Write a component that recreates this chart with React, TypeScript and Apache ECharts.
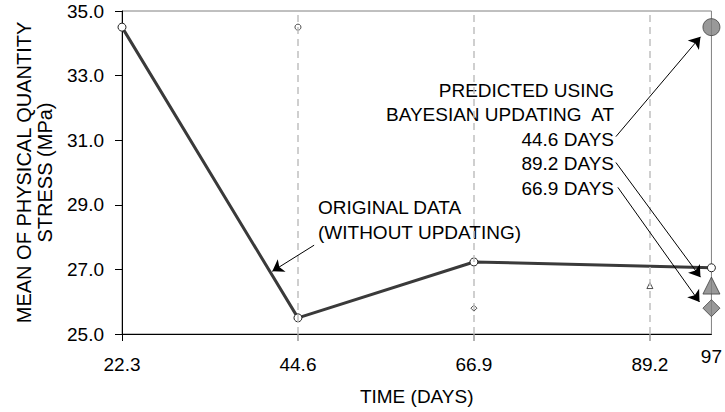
import React, { useEffect, useRef } from "react";
import * as echarts from "echarts";

// ---- data ----
const originalDays = [22.3, 44.6, 66.9, 97];
const originalStress = [34.5, 25.5, 27.23, 27.05];

const updateDays = [44.6, 66.9, 89.2];
const predictedStress = [34.5, 25.8, 26.5];
const predictedSymbols = ["circle", "diamond", "triangle"];
const finalDay = 97;

const xLabelValues = [22.3, 44.6, 66.9, 89.2, 97];
const xTickValues = [44.6, 66.9, 89.2];
const xCornerTick = [22.3];

// annotation arrows (data space): tail -> head
const arrowTails = [
  [46.65, 27.75],
  [84.89, 31.11],
  [84.89, 30.31],
  [85.14, 29.54],
];
const arrowHeads = [
  [41.35, 26.94],
  [95.61, 34.2],
  [95.61, 26.76],
  [95.49, 25.99],
];

const FONT = '"Liberation Sans", Arial, sans-serif';
const FS = 19;

export default function App() {
  const ref = useRef<HTMLDivElement>(null);

  useEffect(() => {
    document.body.style.margin = "0";
    if (!ref.current) return;
    const chart = echarts.init(ref.current, undefined, { renderer: "svg" });

    const baseX = {
      type: "value",
      min: 22.3,
      max: 97,
      splitLine: { show: false },
    };

    const option: any = {
      animation: false,
      backgroundColor: "#fff",
      textStyle: { fontFamily: FONT },
      grid: {
        left: 122,
        right: 11,
        top: 11,
        bottom: 77,
        show: true,
        borderColor: "#808080",
        borderWidth: 1,
        backgroundColor: "transparent",
      },
      xAxis: [
        {
          ...baseX,
          name: "TIME (DAYS)",
          nameLocation: "middle",
          nameGap: 51,
          nameTextStyle: { fontSize: FS, color: "#000", fontFamily: FONT, lineHeight: 22 },
          axisLine: { show: true, onZero: false, lineStyle: { color: "#000", width: 1 } },
          axisTick: {
            show: true,
            customValues: xTickValues,
            length: 7,
            lineStyle: { color: "#999", width: 1.5 },
          },
          axisLabel: {
            customValues: xLabelValues,
            margin: 11,
            formatter: (v: number) =>
              v === finalDay ? "{u|" + String(v) + "}" : "{n|" + v.toFixed(1) + "}",
            rich: {
              n: { fontSize: FS, color: "#000", fontFamily: FONT, lineHeight: 38 },
              u: { fontSize: FS, color: "#000", fontFamily: FONT, lineHeight: 22 },
            },
          },
        },
        {
          ...baseX,
          position: "bottom",
          axisLine: { show: false, onZero: false },
          axisTick: {
            show: true,
            customValues: xCornerTick,
            length: 7,
            lineStyle: { color: "#000", width: 1 },
          },
          axisLabel: { show: false },
        },
      ],
      yAxis: {
        type: "value",
        min: 25,
        max: 35,
        interval: 2,
        name: "MEAN OF PHYSICAL QUANTITY\nSTRESS (MPa)",
        nameLocation: "middle",
        nameGap: 67,
        nameTextStyle: { fontSize: 20, color: "#000", fontFamily: FONT, lineHeight: 21 },
        axisLine: { show: true, lineStyle: { color: "#000", width: 1 } },
        axisTick: { show: true, length: 7, lineStyle: { color: "#000" } },
        axisLabel: {
          margin: 18,
          fontSize: FS,
          color: "#000",
          fontFamily: FONT,
          formatter: (v: number) => v.toFixed(1),
        },
        splitLine: { show: false },
      },
      series: [
        {
          type: "line",
          data: [],
          z: 1,
          silent: true,
          markLine: {
            silent: true,
            symbol: "none",
            label: { show: false },
            lineStyle: { color: "#c0c0c0", type: [7, 5], width: 1.5 },
            data: updateDays.map((d) => ({ xAxis: d })),
          },
        },
        {
          type: "line",
          z: 3,
          clip: false,
          data: originalDays.map((d, i) => [d, originalStress[i]]),
          lineStyle: { color: "#3a3a3a", width: 3 },
          symbol: "circle",
          symbolSize: 8,
          itemStyle: { color: "#fff", borderColor: "#222", borderWidth: 1 },
        },
        {
          type: "scatter",
          z: 4,
          clip: false,
          data: updateDays.map((d, i) => ({
            value: [d, predictedStress[i]],
            symbol: predictedSymbols[i],
          })),
          symbolSize: 6,
          itemStyle: { color: "#fff", borderColor: "#222", borderWidth: 1 },
        },
        {
          type: "scatter",
          z: 5,
          clip: false,
          data: predictedStress.map((v, i) => ({
            value: [finalDay, v],
            symbol: predictedSymbols[i],
          })),
          symbolSize: 17,
          itemStyle: { color: "#7f7f7f", borderColor: "#404040", borderWidth: 1 },
        },
        {
          type: "line",
          data: [],
          z: 6,
          silent: true,
          markLine: {
            silent: true,
            symbol: ["none", "arrow"],
            symbolSize: 11,
            label: { show: false },
            lineStyle: { color: "#000", width: 1, type: "solid" },
            itemStyle: { color: "#000" },
            data: arrowTails.map((t, i) => [{ coord: t }, { coord: arrowHeads[i] }]),
          },
        },
      ],
      graphic: [
        {
          type: "text",
          x: 318,
          y: 195,
          style: {
            text: "ORIGINAL DATA\n(WITHOUT UPDATING)",
            fontSize: FS,
            fontFamily: FONT,
            fill: "#000",
            lineHeight: 25,
            align: "left",
            verticalAlign: "top",
          },
        },
        {
          type: "text",
          x: 614,
          y: 78,
          style: {
            text: "PREDICTED USING\nBAYESIAN UPDATING  AT\n44.6 DAYS\n89.2 DAYS\n66.9 DAYS",
            fontSize: FS,
            fontFamily: FONT,
            fill: "#000",
            lineHeight: 24.5,
            align: "right",
            verticalAlign: "top",
          },
        },
      ],
    };

    chart.setOption(option);
    return () => chart.dispose();
  }, []);

  return <div ref={ref} style={{ width: 725, height: 412 }} />;
}
